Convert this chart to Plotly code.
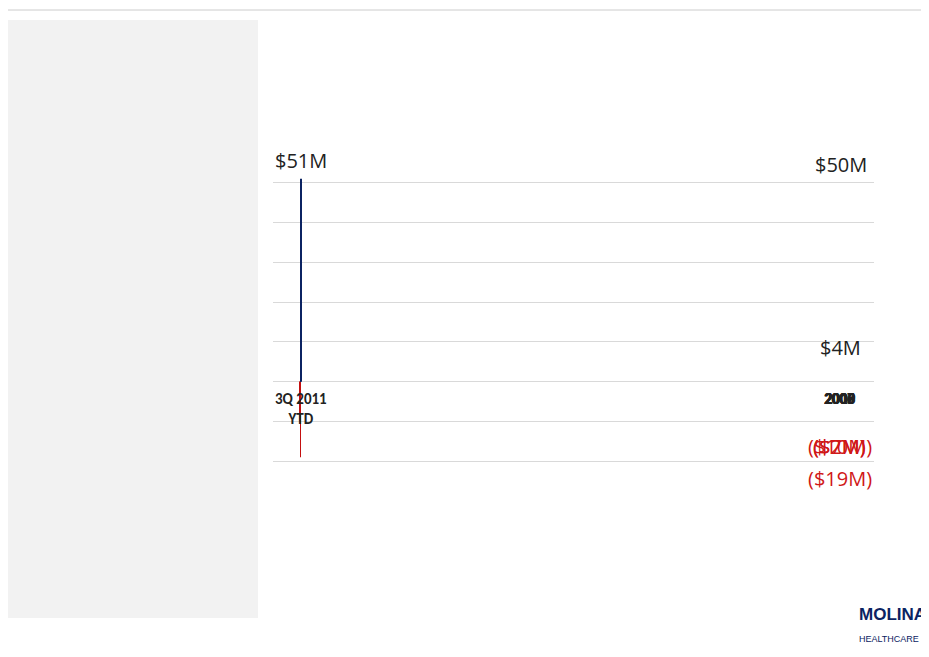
import plotly.graph_objects as go

years = ["2005", "2006", "2007", "2008", "2009", "2010", "3Q 2011<br>YTD"]
values = [-2, -7, -10, -19, 4, 50, 51]
labels = ["($2M)", "($7M)", "($10M)", "($19M)", "$4M", "$50M", "$51M"]

red = "#c40f0f"
navy = "#0b2362"
colors = [red if v < 0 else navy for v in values]

fig = go.Figure(go.Bar(x=years, y=values, marker_color=colors,
                       marker_line_width=0, hoverinfo="skip"))

# year labels just under the zero line
for yr in years:
    fig.add_annotation(x=yr, y=-1.5, text="<b>%s</b>" % yr, showarrow=False,
                       yanchor="top", font=dict(size=15, color="#222222",
                                                family="Carlito, Liberation Sans"))

# value labels
for yr, v, t in zip(years, values, labels):
    if v < 0:
        y = min(v - 1.5, -12.5)
        fig.add_annotation(x=yr, y=y, text=t, showarrow=False, yanchor="top",
                           font=dict(size=20, color="#d01818", family="Open Sans"))
    else:
        fig.add_annotation(x=yr, y=v + 0.8, text=t, showarrow=False, yanchor="bottom",
                           font=dict(size=20, color="#222222", family="Open Sans"))

def px(x):
    return (x - 265) / 601

def py(y):
    return (493 - y) / 358

# grey side panel, top rule and logo
fig.add_shape(type="rect", xref="paper", yref="paper", x0=px(0), x1=px(250),
              y0=py(610), y1=py(12), fillcolor="#f2f2f2", line_width=0, layer="below")
fig.add_shape(type="line", xref="paper", yref="paper", x0=px(0), x1=px(929),
              y0=py(2), y1=py(2), line=dict(color="#cccccc", width=1))
fig.add_annotation(xref="paper", yref="paper", x=px(920), y=py(638), xanchor="right",
                   text="<b>MOLINA</b><br><span style='font-size:9px'>HEALTHCARE</span>",
                   showarrow=False, align="left",
                   font=dict(size=17, color="#0b2362", family="Liberation Sans"))

fig.update_layout(
    width=929, height=657,
    margin=dict(l=265, r=63, t=135, b=164),
    paper_bgcolor="white", plot_bgcolor="white",
    bargap=0.12, showlegend=False,
    xaxis=dict(type="category", showticklabels=False, showgrid=False, zeroline=False),
    yaxis=dict(range=[-30, 60], dtick=10, showticklabels=False,
               gridcolor="#d9d9d9", zeroline=False),
)
fig.write_html("out.html")
